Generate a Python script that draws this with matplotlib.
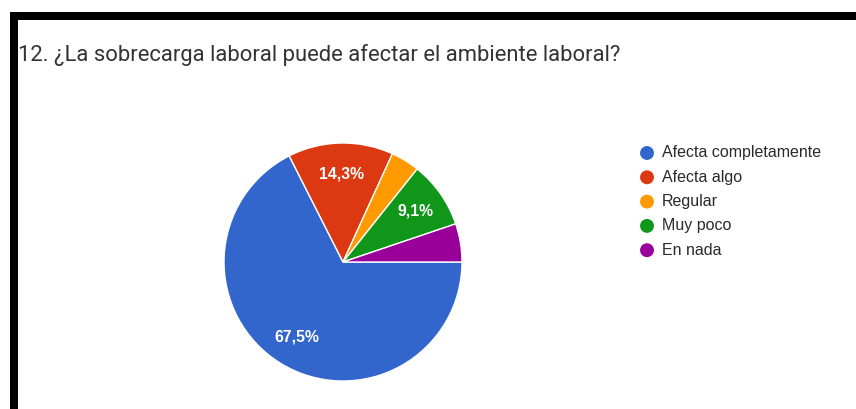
import matplotlib
matplotlib.use("Agg")
import matplotlib.pyplot as plt
from matplotlib.patches import Rectangle

# Survey answers (77 responses)
categories = ["Afecta completamente", "Afecta algo", "Regular", "Muy poco", "En nada"]
counts = [52, 11, 3, 7, 4]
colors = ["#3366CC", "#DC3912", "#FF9900", "#109618", "#990099"]
title = "12. ¿La sobrecarga laboral puede afectar el ambiente laboral?"

W, H = 856, 409
fig = plt.figure(figsize=(W / 100, H / 100), dpi=100)
fig.patch.set_facecolor("white")


def px_rect(x0, y0, w, h):
    """Figure-fraction rectangle from top-left pixel coordinates."""
    return [x0 / W, 1 - (y0 + h) / H, w / W, h / H]


# Black frame on the top and left edges
for x0, y0, w, h in [(10, 12, W - 10, 8), (10, 12, 8, H - 12)]:
    fx, fy, fw, fh = px_rect(x0, y0, w, h)
    fig.add_artist(Rectangle((fx, fy), fw, fh, transform=fig.transFigure,
                             facecolor="black", edgecolor="none", zorder=0))

fig.text(18 / W, 1 - 55 / H, title, fontsize=15.8, color="#333333",
         family=["Roboto", "DejaVu Sans"], ha="left", va="center")

# Pie
cx, cy, r = 343, 262, 119
ax = fig.add_axes(px_rect(cx - r, cy - r, 2 * r, 2 * r))
total = sum(counts)


def pct_label(p):
    return f"{p:.1f}".replace(".", ",") + "%" if p >= 9 else ""


wedges, texts, autotexts = ax.pie(
    counts, colors=colors, startangle=0, counterclock=False,
    autopct=pct_label, pctdistance=0.74,
    wedgeprops=dict(edgecolor="white", linewidth=1.0),
    textprops=dict(color="white", fontsize=11.3, fontweight="bold",
                   family=["Liberation Sans", "DejaVu Sans"]))
ax.set_xlim(-1.0, 1.0)
ax.set_ylim(-1.0, 1.0)
ax.set_aspect("equal")
ax.axis("off")

# Legend
lax = fig.add_axes([0, 0, 1, 1], facecolor="none")
lax.set_xlim(0, W)
lax.set_ylim(H, 0)
lax.axis("off")
for i, (lab, col) in enumerate(zip(categories, colors)):
    y = 153 + 24.3 * i
    lax.scatter([647], [y], s=100, color=col, edgecolors="none")
    lax.text(662, y, lab, fontsize=11.5, color="#2a2a2a", va="center", ha="left",
             family=["Liberation Sans", "DejaVu Sans"])

fig.savefig("out.png", dpi=100, facecolor="white")
